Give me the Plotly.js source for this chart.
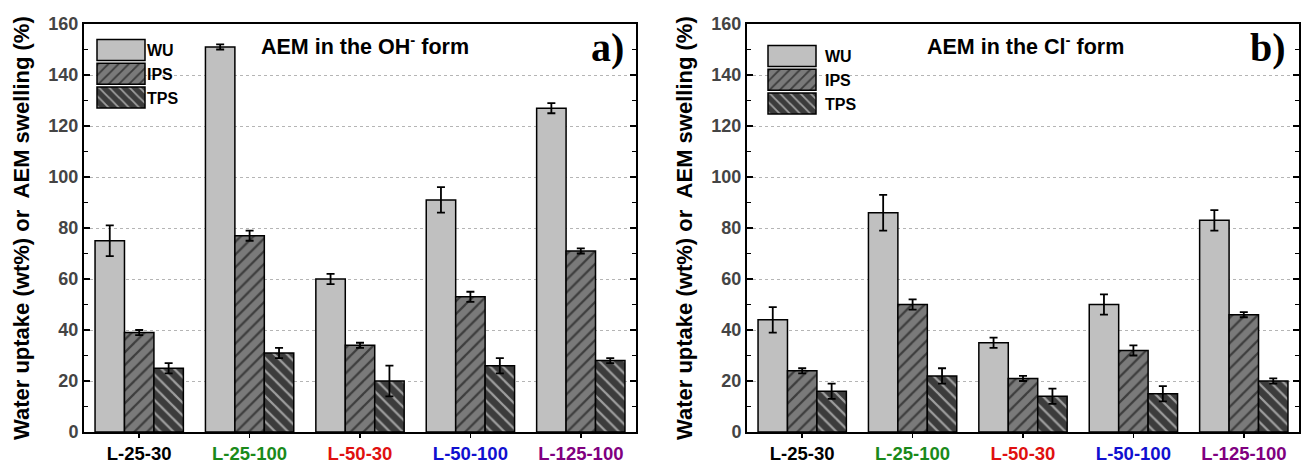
<!DOCTYPE html>
<html><head><meta charset="utf-8">
<script src="https://cdn.plot.ly/plotly-3.0.1.min.js"></script>
<style>body{margin:0;background:#fff}#c{width:1301px;height:463px}</style>
</head><body><div id="c"></div>
<script>
const categories = ['L-25-30','L-25-100','L-50-30','L-50-100','L-125-100'];
const catColors = ['#000000','#1a8a1a','#e01010','#1010d0','#800080'];
const seriesNames = ['WU','IPS','TPS'];
const yTitle = 'Water uptake (wt%) or  AEM swelling (%)';
// AEM in the OH- form (panel a)
const ohWU  = [75, 151, 60, 91, 127];
const ohWUe = [6, 1, 2, 5, 2];
const ohIPS  = [39, 77, 34, 53, 71];
const ohIPSe = [1, 2, 1, 2, 1];
const ohTPS  = [25, 31, 20, 26, 28];
const ohTPSe = [2, 2, 6, 3, 1];
// AEM in the Cl- form (panel b)
const clWU  = [44, 86, 35, 50, 83];
const clWUe = [5, 7, 2, 4, 4];
const clIPS  = [24, 50, 21, 32, 46];
const clIPSe = [1, 2, 1, 2, 1];
const clTPS  = [16, 22, 14, 15, 20];
const clTPSe = [3, 3, 3, 3, 1];
const yTicks = [0,20,40,60,80,100,120,140,160];

const styles = [
  {color:'#c0c0c0', pattern:{shape:''}},
  {color:'#7a7a7a', pattern:{shape:'/', fgcolor:'#000000', bgcolor:'#7a7a7a', size:9, solidity:0.25, fillmode:'overlay'}},
  {color:'#3c3c3c', pattern:{shape:'\\', fgcolor:'#ffffff', bgcolor:'#3c3c3c', size:9, solidity:0.25, fillmode:'overlay'}}
];
function mk(name, vals, errs, idx, xa, ya, legend){
  const s = styles[idx];
  return {type:'bar', name:name, x:categories, y:vals, xaxis:xa, yaxis:ya, legend:legend,
    marker:{color:s.color, pattern:s.pattern, line:{color:'#000', width:1.5}},
    error_y:{type:'data', array:errs, visible:true, color:'#000', thickness:1.8, width:4},
    hoverinfo:'skip'};
}
const data = [
  mk(seriesNames[0], ohWU, ohWUe, 0, 'x', 'y', 'legend'),
  mk(seriesNames[1], ohIPS, ohIPSe, 1, 'x', 'y', 'legend'),
  mk(seriesNames[2], ohTPS, ohTPSe, 2, 'x', 'y', 'legend'),
  mk(seriesNames[0], clWU, clWUe, 0, 'x2', 'y2', 'legend2'),
  mk(seriesNames[1], clIPS, clIPSe, 1, 'x2', 'y2', 'legend2'),
  mk(seriesNames[2], clTPS, clTPSe, 2, 'x2', 'y2', 'legend2')
];
const F = 'Liberation Sans, Arial, sans-serif';
const tickText = categories.map((c,i)=>'<span style="color:'+catColors[i]+'">'+c+'</span>');
const W = 1301, H = 463;
const yDom = [(H-432)/H, (H-24)/H];
const xDomA = [84/W, 636/W];
const xDomB = [747/W, 1299/W];
function xax(dom, anchor){
  return {domain:dom, anchor:anchor, type:'category', range:[-0.5,4.5], tickmode:'array', tickvals:categories, ticktext:tickText,
    ticks:'outside', ticklen:4, tickwidth:1.5, tickcolor:'#000', showline:true, linewidth:2, linecolor:'#000', mirror:true,
    showgrid:false, tickfont:{family:F, size:18.5, weight:'bold'}, automargin:false, fixedrange:true};
}
function yax(dom, anchor){
  return {domain:dom, anchor:anchor, range:[0,160], tickvals:yTicks, ticks:'inside', ticklen:6, tickwidth:1.5, tickcolor:'#000',
    minor:{dtick:10, ticks:'inside', ticklen:4, tickwidth:1.2, tickcolor:'#000', showgrid:false},
    showline:true, linewidth:2, linecolor:'#000', mirror:'allticks',
    showgrid:true, gridcolor:'#b5b5b5', griddash:'dot', gridwidth:1, zeroline:false,
    tickfont:{family:F, size:18, weight:'bold'}, automargin:false, fixedrange:true};
}
function topax(overl, anchor){
  return {overlaying:overl, anchor:anchor, side:'top', range:[-0.5,4.5], tickvals:[0,1,2,3,4], showticklabels:false,
    ticks:'inside', ticklen:6, tickwidth:1.5, tickcolor:'#000', showgrid:false, zeroline:false, showline:false, fixedrange:true};
}
const legendCommon = {font:{family:F, size:16, weight:'bold', color:'#000'}, bgcolor:'rgba(0,0,0,0)', xanchor:'left', yanchor:'top', tracegroupgap:0, itemwidth:60};
const yMid = (yDom[0]+yDom[1])/2;
const layout = {
  width:W, height:H, margin:{l:0,r:0,t:0,b:0}, paper_bgcolor:'#fff', plot_bgcolor:'#fff',
  barmode:'group', bargap:0.2, bargroupgap:0, showlegend:true,
  xaxis:xax(xDomA,'y'), yaxis:yax(yDom,'x'),
  xaxis2:xax(xDomB,'y2'), yaxis2:yax(yDom,'x2'),
  xaxis3:topax('x','y'), xaxis4:topax('x2','y2'),
  legend:Object.assign({x:84/W, y:(H-33)/H}, legendCommon),
  legend2:Object.assign({x:755/W, y:(H-39)/H}, legendCommon),
  annotations:[
    {xref:'paper', yref:'paper', x:21/W, y:yMid, xanchor:'center', yanchor:'middle', textangle:-90, text:yTitle, showarrow:false, font:{family:F, size:22, weight:'bold', color:'#000'}},
    {xref:'paper', yref:'paper', x:684/W, y:yMid, xanchor:'center', yanchor:'middle', textangle:-90, text:yTitle, showarrow:false, font:{family:F, size:22, weight:'bold', color:'#000'}},
    {xref:'paper', yref:'paper', x:365/W, y:(H-45)/H, xanchor:'center', yanchor:'middle', text:'AEM in the OH<sup>-</sup> form', showarrow:false, font:{family:F, size:21.5, weight:'bold', color:'#000'}},
    {xref:'paper', yref:'paper', x:1025/W, y:(H-45)/H, xanchor:'center', yanchor:'middle', text:'AEM in the Cl<sup>-</sup> form', showarrow:false, font:{family:F, size:21.5, weight:'bold', color:'#000'}},
    {xref:'paper', yref:'paper', x:607/W, y:(H-47)/H, xanchor:'center', yanchor:'middle', text:'a)', showarrow:false, font:{family:'Liberation Serif, Times New Roman, serif', size:40, weight:'bold', color:'#000'}},
    {xref:'paper', yref:'paper', x:1268/W, y:(H-47)/H, xanchor:'center', yanchor:'middle', text:'b)', showarrow:false, font:{family:'Liberation Serif, Times New Roman, serif', size:40, weight:'bold', color:'#000'}}
  ]
};
Plotly.newPlot('c', data, layout, {staticPlot:true, displayModeBar:false}).then(function(gd){
  // Origin-like wide legend boxes
  gd.querySelectorAll('.legendpoints path').forEach(function(p){
    p.setAttribute('d','M-22,-10.5H26V10.5H-22Z');
    p.style.strokeWidth = '1.5px';
    p.style.stroke = '#000';
  });
  gd.querySelectorAll('.legendtext').forEach(function(t){ t.setAttribute('x','63'); });
});
</script></body></html>
